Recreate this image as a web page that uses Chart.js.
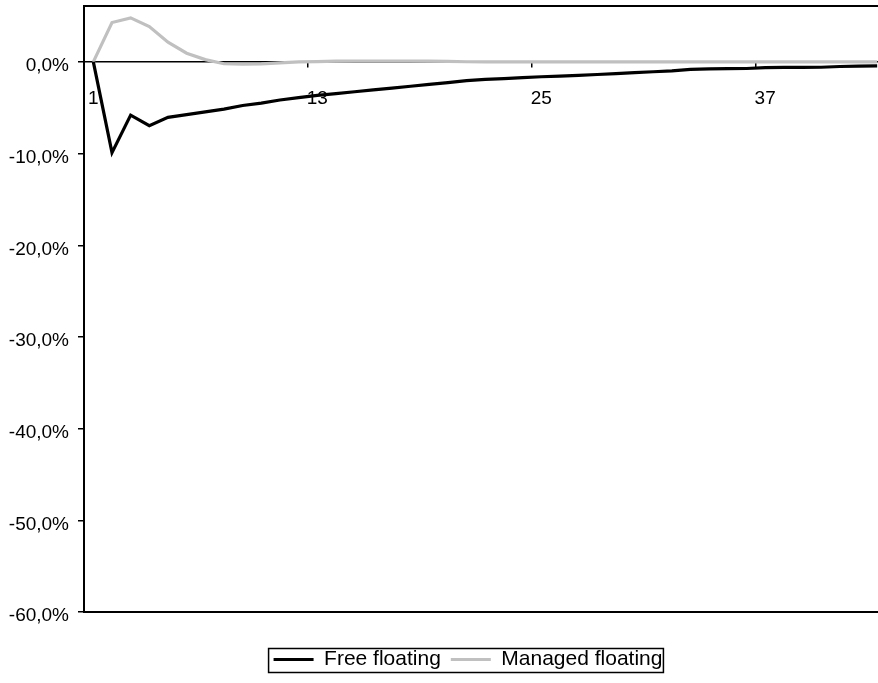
<!DOCTYPE html>
<html>
<head>
<meta charset="utf-8">
<script src="https://cdn.jsdelivr.net/npm/chart.js@4/dist/chart.umd.min.js"></script>
<style>
  body { margin: 0; overflow: hidden; background: #fff; }
  #wrap { width: 936px; height: 683px; }
</style>
</head>
<body>
<div id="wrap"><canvas id="myChart"></canvas></div>
<script>
// periods after the shock
const periods = ['1','2','3','4','5','6','7','8','9','10','11','12','13','14','15','16','17','18','19','20',
  '21','22','23','24','25','26','27','28','29','30','31','32','33','34','35','36','37','38','39','40','41','42','43'];

// responses in %
const freeFloating = [0, -9.9, -5.8, -6.95, -6.05, -5.75, -5.45, -5.15, -4.75, -4.5, -4.15, -3.9, -3.65, -3.45,
  -3.25, -3.05, -2.85, -2.65, -2.45, -2.25, -2.05, -1.9, -1.82, -1.72, -1.62, -1.55, -1.47, -1.37, -1.27,
  -1.17, -1.07, -0.97, -0.82, -0.76, -0.74, -0.72, -0.62, -0.6, -0.6, -0.58, -0.5, -0.45, -0.43];
const managedFloating = [0, 4.3, 4.8, 3.85, 2.15, 0.95, 0.25, -0.2, -0.25, -0.22, -0.1, 0, 0.04, 0.08, 0.1,
  0.1, 0.1, 0.1, 0.08, 0.05, 0.02, 0, 0, 0, 0, 0, 0, 0, 0, 0, 0, 0, 0, 0, 0, 0, 0, 0, 0, 0, 0, 0, 0];

const yTicks = [-60, -50, -40, -30, -20, -10, 0];
const labelEvery = 12;

const font = { family: 'Arial, "Liberation Sans", sans-serif', size: 19 };

function pct(v){
  return v.toFixed(1).replace('.', ',') + '%';
}

function noPad(s){
  s.paddingTop = 0;
  s.paddingBottom = 0;
}

// box round the plot area and the legend
const frames = {
  id: 'frames',
  afterDraw(chart){
    const c = chart.ctx;
    const a = chart.chartArea;
    c.save();
    c.strokeStyle = '#000';
    c.lineWidth = 2;
    c.strokeRect(a.left, a.top, a.right - a.left, a.bottom - a.top);
    const boxes = chart.legend.legendHitBoxes;
    if (boxes && boxes.length){
      const first = boxes[0], last = boxes[boxes.length - 1];
      const cy = first.top + first.height / 2;
      c.lineWidth = 1.5;
      c.strokeRect(first.left - 5, cy - 11, last.left + last.width - first.left + 6, 24);
    }
    c.restore();
  }
};

const ctx = document.getElementById('myChart').getContext('2d');
const myChart = new Chart(ctx, {
  type: 'line',
  data: {
    labels: periods,
    datasets: [{
      label: 'Free floating',
      data: freeFloating,
      borderColor: '#000000',
      backgroundColor: '#000000',
      borderWidth: 3.2,
      pointRadius: 0,
      tension: 0
    }, {
      label: 'Managed floating',
      data: managedFloating,
      borderColor: '#c0c0c0',
      backgroundColor: '#c0c0c0',
      borderWidth: 3.2,
      pointRadius: 0,
      tension: 0
    }]
  },
  options: {
    responsive: true,
    maintainAspectRatio: false,
    animation: false,
    layout: { autoPadding: false, padding: { left: 0, top: 6, right: 0, bottom: 3 } },
    plugins: {
      tooltip: { enabled: false },
      legend: {
        position: 'bottom',
        labels: {
          usePointStyle: true,
          pointStyle: 'line',
          pointStyleWidth: 40,
          padding: 10,
          color: '#000',
          font: { family: font.family, size: 21 }
        }
      }
    },
    scales: {
      x: {
        type: 'category',
        position: { y: 0 },
        offset: true,
        grid: {
          offset: true,
          drawOnChartArea: false,
          drawTicks: true,
          tickLength: 5,
          lineWidth: 1.5,
          color: (c) => (c.index % labelEvery === 0 ? '#000' : 'rgba(0,0,0,0)')
        },
        border: { display: true, color: '#000', width: 1.5 },
        ticks: {
          autoSkip: false,
          maxRotation: 0,
          padding: 20,
          color: '#000',
          font: font,
          callback: function(val, i){ return i % labelEvery === 0 ? this.getLabelForValue(val) : ''; }
        }
      },
      xPad: {
        type: 'linear',
        axis: 'x',
        position: 'bottom',
        display: true,
        grid: { display: false },
        border: { display: false },
        ticks: { display: false },
        afterFit: (s) => { s.height = 27; }
      },
      y: {
        type: 'linear',
        min: -60,
        max: 6.1,
        grid: {
          drawOnChartArea: false,
          drawTicks: true,
          tickLength: 6,
          lineWidth: 1.5,
          color: '#000'
        },
        border: { display: true, color: '#000', width: 2 },
        afterBuildTicks: (s) => { s.ticks = yTicks.map(v => ({ value: v })); },
        afterFit: (s) => { s.width = 84; noPad(s); },
        ticks: {
          padding: 9,
          labelOffset: 4,
          color: '#000',
          font: font,
          callback: (v) => pct(v)
        }
      },
      yPad: {
        type: 'linear',
        axis: 'y',
        position: 'right',
        display: true,
        grid: { display: false },
        border: { display: false },
        ticks: { display: false },
        afterFit: (s) => { s.width = 49.5; noPad(s); }
      }
    }
  },
  plugins: [frames]
});
</script>
</body>
</html>
